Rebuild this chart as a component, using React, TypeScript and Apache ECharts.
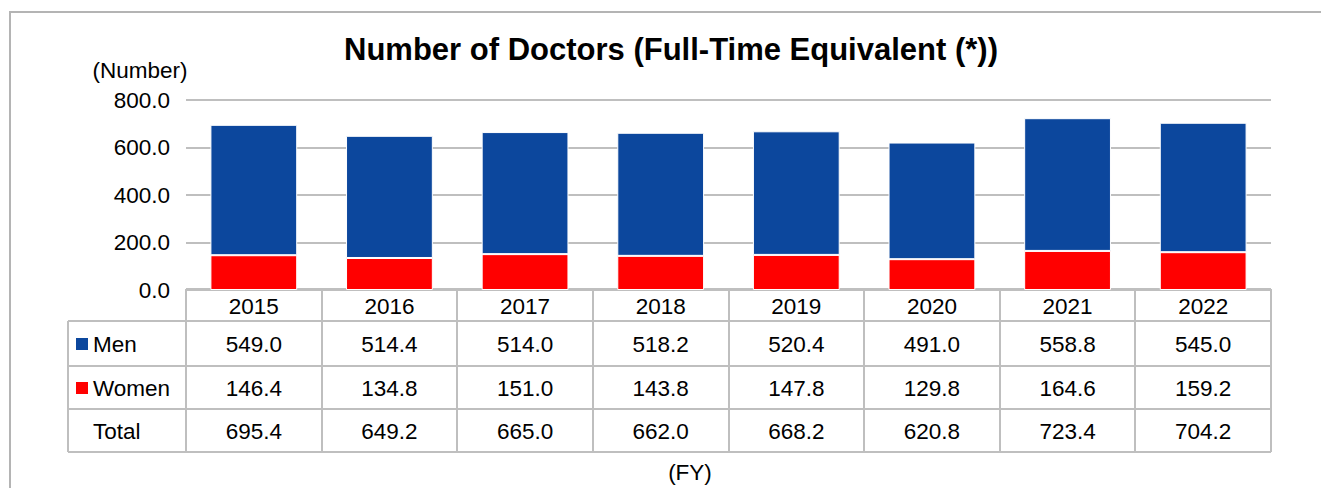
import React, { useEffect, useRef } from "react";
import * as echarts from "echarts";

const years = ["2015", "2016", "2017", "2018", "2019", "2020", "2021", "2022"];
const men = [549.0, 514.4, 514.0, 518.2, 520.4, 491.0, 558.8, 545.0];
const women = [146.4, 134.8, 151.0, 143.8, 147.8, 129.8, 164.6, 159.2];
const total = [695.4, 649.2, 665.0, 662.0, 668.2, 620.8, 723.4, 704.2];
const yTicks = [0, 200, 400, 600, 800];

const FONT = "'Liberation Sans', Arial, sans-serif";
const BLUE = "#0C479D";
const RED = "#FF0000";
const LINE = "#BFBFBF";
const FS = 22.5;

const GRID_LEFT = 186;
const GRID_RIGHT = 1271;
const GRID_TOP = 100;
const GRID_BOTTOM = 290;

export default function App() {
  const ref = useRef<HTMLDivElement>(null);
  useEffect(() => {
    if (!ref.current) return;
    const chart = echarts.init(ref.current, undefined, { renderer: "svg" });
    const colW = (GRID_RIGHT - GRID_LEFT) / years.length;
    const rowY = [289, 321, 366, 409, 452];
    const labelLeft = 68;
    const graphics: any[] = [];
    // outer frame
    graphics.push({
      type: "rect",
      shape: { x: 10, y: 12, width: 1400, height: 600 },
      style: { fill: "none", stroke: "#B4B4B4", lineWidth: 2 },
      silent: true,
    });
    // horizontal table lines
    rowY.forEach((y, i) => {
      graphics.push({
        type: "line",
        shape: { x1: i === 0 ? GRID_LEFT : labelLeft, y1: y, x2: GRID_RIGHT, y2: y },
        style: { stroke: LINE, lineWidth: 2 },
        silent: true,
      });
    });
    // vertical lines
    for (let i = 0; i <= years.length; i++) {
      const x = Math.round(GRID_LEFT + i * colW);
      graphics.push({
        type: "line",
        shape: { x1: x, y1: rowY[0], x2: x, y2: rowY[4] },
        style: { stroke: LINE, lineWidth: 2 },
        silent: true,
      });
    }
    graphics.push({
      type: "line",
      shape: { x1: labelLeft, y1: rowY[1], x2: labelLeft, y2: rowY[4] },
      style: { stroke: LINE, lineWidth: 2 },
      silent: true,
    });
    const rows = [
      { name: "Men", color: BLUE, vals: men },
      { name: "Women", color: RED, vals: women },
      { name: "Total", color: null as string | null, vals: total },
    ];
    rows.forEach((r, ri) => {
      const cy = (rowY[ri + 1] + rowY[ri + 2]) / 2 + 0.5;
      if (r.color) {
        graphics.push({
          type: "rect",
          shape: { x: 76, y: cy - 6, width: 12, height: 12 },
          style: { fill: r.color },
          silent: true,
        });
      }
      graphics.push({
        type: "text",
        x: 93,
        y: cy,
        style: {
          text: r.name,
          font: `${FS}px ${FONT}`,
          fill: "#000",
          align: "left",
          verticalAlign: "middle",
        },
        silent: true,
      });
      r.vals.forEach((v, i) => {
        graphics.push({
          type: "text",
          x: GRID_LEFT + (i + 0.5) * colW,
          y: cy,
          style: {
            text: v.toFixed(1),
            font: `${FS}px ${FONT}`,
            fill: "#000",
            align: "center",
            verticalAlign: "middle",
          },
          silent: true,
        });
      });
    });
    graphics.push({
      type: "text",
      x: 140,
      y: 70,
      style: { text: "(Number)", font: `${FS}px ${FONT}`, fill: "#000", align: "center", verticalAlign: "middle" },
      silent: true,
    });
    graphics.push({
      type: "text",
      x: 690,
      y: 472,
      style: { text: "(FY)", font: `${FS}px ${FONT}`, fill: "#000", align: "center", verticalAlign: "middle" },
      silent: true,
    });
    graphics.push({
      type: "text",
      x: 671,
      y: 49,
      style: {
        text: "Number of Doctors (Full-Time Equivalent (*))",
        font: `bold 31px ${FONT}`,
        fill: "#000",
        align: "center",
        verticalAlign: "middle",
      },
      silent: true,
    });

    chart.setOption({
      animation: false,
      grid: {
        left: GRID_LEFT,
        right: 1321 - GRID_RIGHT,
        top: GRID_TOP,
        bottom: 488 - GRID_BOTTOM,
        containLabel: false,
      },
      xAxis: {
        type: "category",
        data: years,
        axisLine: { show: false },
        axisTick: { show: false },
        axisLabel: { fontFamily: FONT, fontSize: FS, color: "#000", margin: 5 },
      },
      yAxis: {
        type: "value",
        min: 0,
        max: yTicks[yTicks.length - 1],
        interval: 200,
        axisLine: { show: false },
        axisTick: { show: false },
        axisLabel: {
          fontFamily: FONT,
          fontSize: FS,
          color: "#000",
          margin: 16,
          formatter: (v: number) => v.toFixed(1),
        },
        splitLine: { lineStyle: { color: LINE, width: 2 } },
      },
      series: [
        {
          name: "Women",
          type: "bar",
          stack: "t",
          data: women,
          barCategoryGap: "36%",
          itemStyle: { color: RED, borderColor: "#fff", borderWidth: 1 },
        },
        {
          name: "Men",
          type: "bar",
          stack: "t",
          data: men,
          barCategoryGap: "36%",
          itemStyle: { color: BLUE, borderColor: "#fff", borderWidth: 1 },
        },
      ],
      graphic: { elements: graphics },
    });
    return () => chart.dispose();
  }, []);
  return (
    <div
      ref={ref}
      style={{ position: "fixed", left: 0, top: 0, width: 1321, height: 488, background: "#fff" }}
    />
  );
}
